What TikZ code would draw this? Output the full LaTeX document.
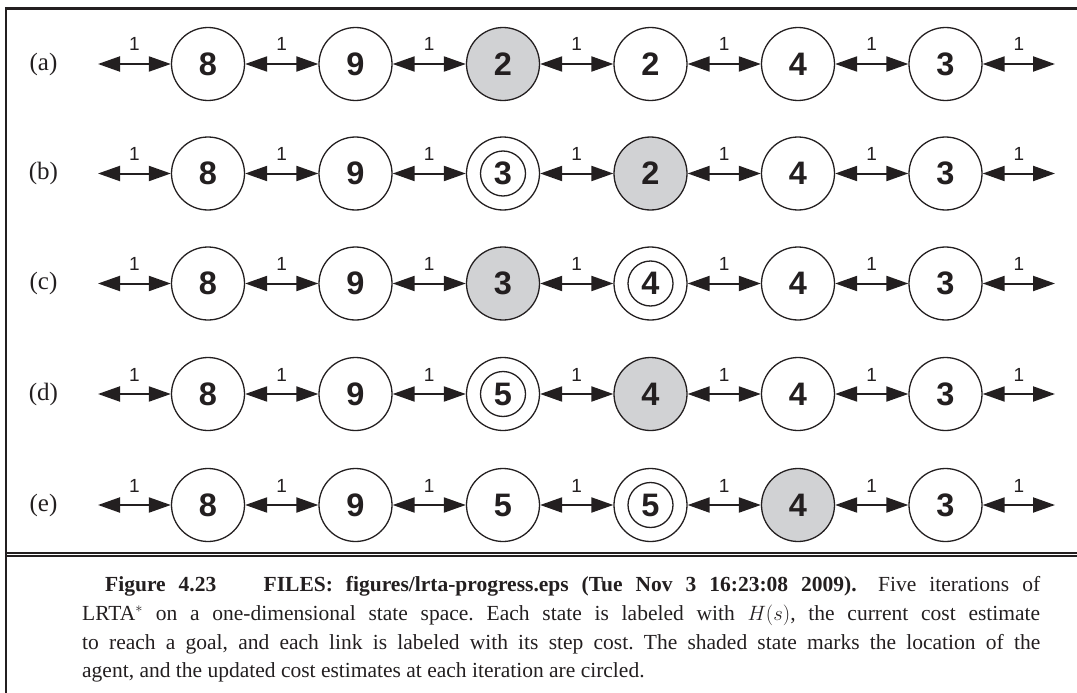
\documentclass[tikz,border=0pt]{standalone}
\usepackage{fontspec}
\setmainfont{Liberation Serif}
\setsansfont{Liberation Sans}
\usetikzlibrary{arrows.meta}
\definecolor{agentgray}{RGB}{209,210,212}
\definecolor{ink}{RGB}{35,31,32}
\begin{document}
\frenchspacing
\begin{tikzpicture}[x=1pt,y=-1pt,
  state/.style={circle, draw=ink, line width=1.3pt, minimum size=73pt, inner sep=0pt,
    font=\sffamily\bfseries\fontsize{32.5}{32.5}\selectfont, text=ink},
  link/.style={draw=ink, line width=2pt,
    {Triangle[length=22pt,width=15pt]}-{Triangle[length=22pt,width=15pt]}},
  cost/.style={midway, above=12pt, inner sep=0pt, font=\sffamily\fontsize{19}{19}\selectfont, text=ink},
  rowlab/.style={font=\fontsize{25}{25}\selectfont, text=ink, inner sep=0pt},
  framebar/.style={draw=ink, line width=2.2pt},
  upd/.style={draw=ink, line width=1.3pt},
  capline/.style={anchor=base west, inner sep=0pt, font=\fontsize{21.5}{26}\selectfont, text=ink}
]
\useasboundingbox (0,0) rectangle (1077,693);
% frame
\draw[framebar] (5.2,8.5) -- (1077,8.5);
\draw[framebar] (6.3,7.4) -- (6.3,693);
\draw[draw=ink, line width=2pt] (6.3,552.7) -- (1077,552.7);
\draw[draw=ink, line width=2pt] (6.3,556.3) -- (1077,556.3);
% rows
\foreach \r/\yy/\vals/\ag/\up in {a/64/{8,9,2,2,4,3}/3/0,
                                   b/173.5/{8,9,3,2,4,3}/4/3,
                                   c/283.5/{8,9,3,4,4,3}/3/4,
                                   d/394/{8,9,5,4,4,3}/4/3,
                                   e/505/{8,9,5,5,4,3}/5/4}{
  \node[rowlab] (lab-\r) at (43.5,\yy) {(\r)};
  \foreach \v [count=\i] in \vals {
    \pgfmathsetmacro\xx{208+147.5*(\i-1)}
    \ifnum\i=\ag \def\fc{agentgray}\else\def\fc{white}\fi
    \node[state, fill=\fc] (n-\r-\i) at (\xx,\yy) {\v};
    \ifnum\i=\up \draw[upd] (n-\r-\i.center) circle[radius=22.5pt];\fi
  }
  \coordinate (l-\r) at (98,\yy);
  \coordinate (q-\r) at (1055,\yy);
  \draw[link] (l-\r) -- (n-\r-1) node[cost] {1};
  \foreach \i [evaluate=\i as \j using int(\i+1)] in {1,...,5}
    \draw[link] (n-\r-\i) -- (n-\r-\j) node[cost] {1};
  \draw[link] (n-\r-6) -- (q-\r) node[cost] {1};
}
% caption
\node[capline] (cap1) at (105,591) {\makebox[935pt][s]{\textbf{Figure 4.23}\quad\ \ \textbf{FILES: figures/lrta-progress.eps (Tue Nov 3 16:23:08 2009).}\quad Five iterations of}};
\node[capline] (cap2) at (82,620) {\makebox[958pt][s]{LRTA$^{*}$ on a one-dimensional state space. Each state is labeled with $H(s)$, the current cost estimate}};
\node[capline] (cap3) at (82,649) {\makebox[958pt][s]{to reach a goal, and each link is labeled with its step cost. The shaded state marks the location of the}};
\node[capline] (cap4) at (82,677) {agent, and the updated cost estimates at each iteration are circled.};
\end{tikzpicture}
\end{document}
